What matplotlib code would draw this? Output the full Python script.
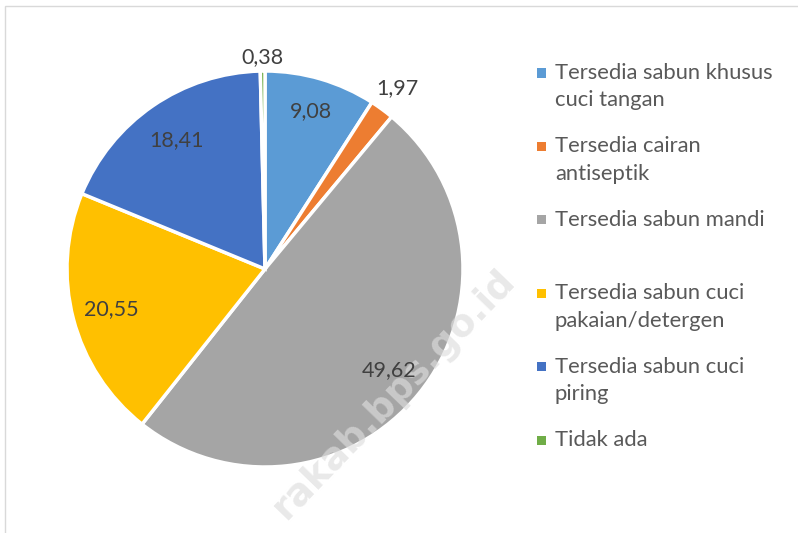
import matplotlib.pyplot as plt
from matplotlib.patches import Rectangle
import numpy as np

# data
categories = ['Tersedia sabun khusus\ncuci tangan', 'Tersedia cairan\nantiseptik',
              'Tersedia sabun mandi', 'Tersedia sabun cuci\npakaian/detergen',
              'Tersedia sabun cuci\npiring', 'Tidak ada']
values = [9.08, 1.97, 49.62, 20.55, 18.41, 0.38]
colors = ['#5B9BD5', '#ED7D31', '#A5A5A5', '#FFC000', '#4472C4', '#70AD47']
label_dist = [0.83, 1.13, 0.81, 0.80, 0.79, 1.07]

plt.rcParams['font.family'] = ['Lato', 'DejaVu Sans']

W, H = 798, 533
fig = plt.figure(figsize=(W / 100, H / 100), dpi=100)

# pie area (pixel geometry)
cx, cy, r = 265, 269, 198
ax = fig.add_axes([(cx - r) / W, (H - cy - r) / H, 2 * r / W, 2 * r / H])
wedges, _ = ax.pie(values, colors=colors, startangle=90, counterclock=False,
                   wedgeprops=dict(edgecolor='white', linewidth=2.5))
ax.set_xlim(-1, 1)
ax.set_ylim(-1, 1)
ax.set_aspect('equal')
ax.axis('off')

for w, v, d in zip(wedges, values, label_dist):
    ang = np.deg2rad((w.theta1 + w.theta2) / 2)
    ax.text(d * np.cos(ang), d * np.sin(ang), f'{v:.2f}'.replace('.', ','),
            ha='center', va='center', fontsize=15.5, color='#404040',
            clip_on=False, zorder=6)

# watermark: above the wedges, below the value labels
ax.text(394 / W, 1 - 394 / H, 'rakab.bps.go.id', transform=fig.transFigure,
        rotation=46, ha='center', va='center', fontsize=27, fontweight='bold',
        color='#DDDDDD', alpha=0.65, family=['DejaVu Sans'], zorder=5, clip_on=False)

# legend drawn by hand to copy the Excel slot layout
slot = 73.4
y0 = 73
for i, (lab, c) in enumerate(zip(categories, colors)):
    yy = y0 + i * slot
    fig.add_artist(Rectangle((537 / W, 1 - (yy + 4.5) / H), 9 / W, 9 / H,
                             transform=fig.transFigure, facecolor=c, edgecolor='none'))
    for j, line in enumerate(lab.split('\n')):
        fig.text(555 / W, 1 - (yy + j * 27.5) / H, line, ha='left', va='center',
                 fontsize=15.8, color='#595959')

# chart frame
fig.add_artist(Rectangle((5 / W, -0.1), 1.2, 1 - 6 / H + 0.1, transform=fig.transFigure,
                         facecolor='none', edgecolor='#D9D9D9', linewidth=1))

fig.savefig('out.png', dpi=100)
